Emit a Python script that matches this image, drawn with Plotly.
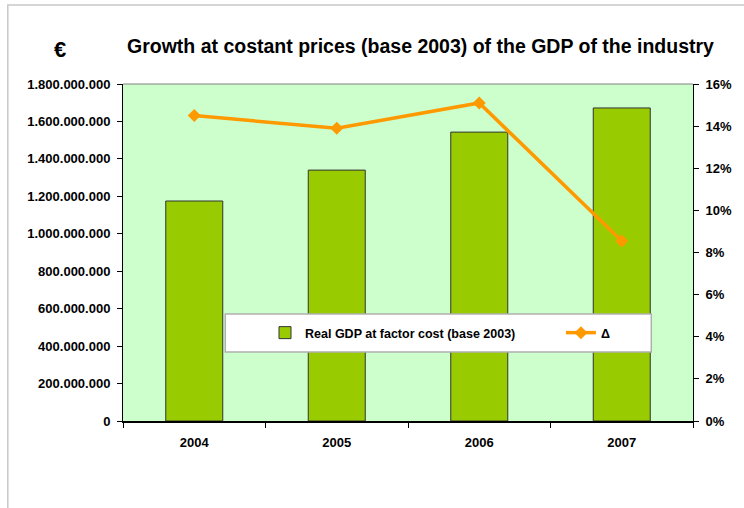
import plotly.graph_objects as go

years = ["2004", "2005", "2006", "2007"]
gdp = [1175000000, 1340000000, 1543000000, 1672000000]
growth = [0.145, 0.139, 0.151, 0.0855]
left_ticks = [0, 200000000, 400000000, 600000000, 800000000, 1000000000,
              1200000000, 1400000000, 1600000000, 1800000000]
right_ticks = [0, 0.02, 0.04, 0.06, 0.08, 0.10, 0.12, 0.14, 0.16]

W, H = 744, 508
L, R, T, B = 123, 47, 84, 87
pw, ph = W - L - R, H - T - B

def px(x):
    return (x - L) / pw

def py(y):
    return (H - B - y) / ph

font = "Liberation Sans, Arial, sans-serif"
tf = dict(family=font, size=13, color="black", weight="bold")
lf = dict(family=font, size=12.5, color="black", weight="bold")

fig = go.Figure()
fig.add_trace(go.Bar(
    x=years, y=gdp, name="Real GDP at factor cost (base 2003)",
    marker=dict(color="#99CC00", line=dict(color="#333333", width=1)),
    width=0.4, yaxis="y", legend="legend",
))
fig.add_trace(go.Scatter(
    x=years, y=growth, name="Δ", mode="lines+markers",
    line=dict(color="#FF9900", width=3.5),
    marker=dict(symbol="diamond", size=10, color="#FF9900"),
    yaxis="y2", legend="legend2",
))

fig.update_layout(
    width=W, height=H,
    margin=dict(l=L, r=R, t=T, b=B),
    paper_bgcolor="white",
    plot_bgcolor="#CCFFCC",
    separators=",.",
    showlegend=True,
    font=dict(family=font, size=12, color="black"),
    xaxis=dict(
        type="category", showgrid=False, showline=True, linecolor="black", linewidth=2,
        ticks="outside", tickson="boundaries", ticklen=5, tickcolor="black",
        tickfont=tf, ticklabelstandoff=8,
        range=[-0.5, 3.5],
    ),
    yaxis=dict(
        range=[0, 1800000000], tickvals=left_ticks, tickformat=",d",
        showgrid=False, showline=True, linecolor="black", linewidth=1,
        ticks="outside", ticklen=5, tickcolor="black", zeroline=False,
        tickfont=tf, ticklabelstandoff=4,
    ),
    yaxis2=dict(
        range=[0, 0.16], tickvals=right_ticks, tickformat=".0%",
        overlaying="y", side="right",
        showgrid=False, showline=True, linecolor="black", linewidth=1,
        ticks="outside", ticklen=5, tickcolor="black", zeroline=False,
        tickfont=tf, ticklabelstandoff=4,
    ),
    legend=dict(
        orientation="h", x=px(266), y=py(333), xanchor="left", yanchor="middle",
        bgcolor="rgba(0,0,0,0)", borderwidth=0, font=lf, itemwidth=30,
    ),
    legend2=dict(
        orientation="h", x=px(564), y=py(333), xanchor="left", yanchor="middle",
        bgcolor="rgba(0,0,0,0)", borderwidth=0, font=lf, itemwidth=30,
    ),
    bargap=0.6,
)

shapes = [
    dict(type="line", xref="paper", yref="paper", x0=0, x1=1, y0=1, y1=1,
         line=dict(color="#808080", width=1), layer="above"),
    dict(type="rect", xref="paper", yref="paper",
         x0=px(226), x1=px(655), y0=py(352), y1=py(314),
         fillcolor="white", line=dict(color="#B0B0B0", width=1.5), layer="above"),
    dict(type="rect", xref="paper", yref="paper",
         x0=px(7), x1=px(770), y0=py(530), y1=py(5),
         fillcolor="rgba(0,0,0,0)", line=dict(color="#C8C8C8", width=1.5), layer="below"),
]
fig.update_layout(shapes=shapes)

fig.add_annotation(
    text="Growth at costant prices (base 2003) of the GDP of the industry",
    xref="paper", yref="paper", x=px(423), y=py(46), showarrow=False,
    xanchor="center", yanchor="middle",
    font=dict(family=font, size=19.5, color="black", weight="bold"),
)
fig.add_annotation(
    text="€", xref="paper", yref="paper", x=px(60), y=py(49), showarrow=False,
    xanchor="center", yanchor="middle",
    font=dict(family=font, size=22, color="black", weight="bold"),
)

fig.write_html("out.html")
